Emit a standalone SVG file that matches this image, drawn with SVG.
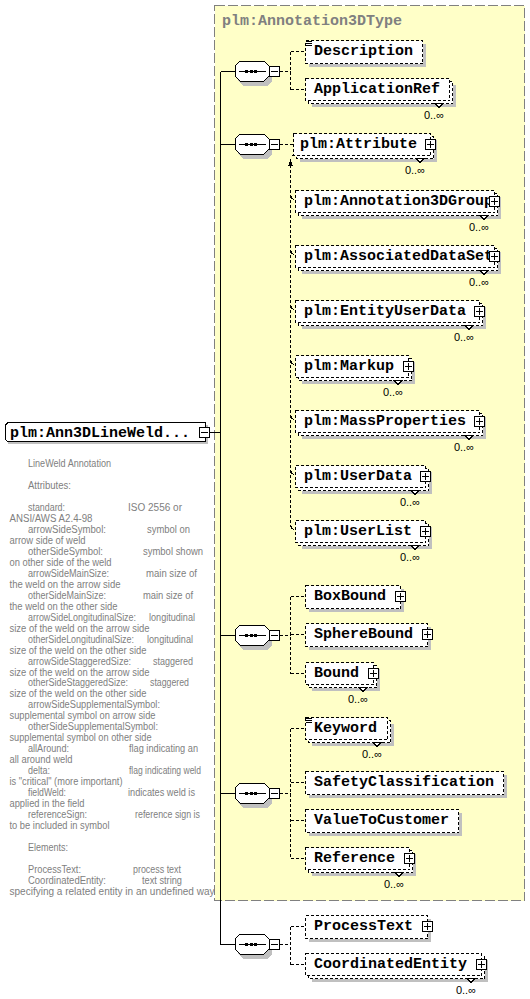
<svg xmlns="http://www.w3.org/2000/svg" xmlns:xlink="http://www.w3.org/1999/xlink" width="530" height="999" viewBox="0 0 530 999">
<defs>
<style>
rect, line, polyline, polygon, path { shape-rendering: crispEdges; }
.yel { fill: #ffffc8; stroke: #808080; stroke-width: 1; stroke-dasharray: 10 3; }
.title { font-family: "Liberation Mono", "Courier New", monospace; font-weight: bold; font-size: 15px; fill: #808080; }
.en { font-family: "Liberation Mono", "Courier New", monospace; font-weight: bold; font-size: 15px; fill: #000000; }
.doc text { font-family: "Liberation Sans", Arial, sans-serif; font-size: 10px; fill: #808080; }
.mult { font-family: "Liberation Sans", Arial, sans-serif; font-size: 11px; fill: #000000; text-anchor: end; }
.sh { fill: #c0c0c0; }
.opt { fill: #ffffff; stroke: #000000; stroke-width: 1; stroke-dasharray: 3 2; }
.req { fill: #ffffff; stroke: #000000; stroke-width: 1; }
.pm { fill: #ffffff; stroke: #000000; stroke-width: 1; }
.ln { stroke: #000000; stroke-width: 1; fill: none; }
.dl { stroke: #000000; stroke-width: 1; fill: none; stroke-dasharray: 3 2; }
.notch { fill: #ffffff; stroke: #000000; stroke-width: 1; }
</style>
<g id="seqShape">
<polygon class="sh" points="243,-5 267,-5 272,0 272,10 267,15 243,15 238,10 238,0"/>
<polygon class="req" points="240,-10 264,-10 269,-5 269,5 264,10 240,10 235,5 235,-5"/>
<line class="ln" x1="239" y1="0.5" x2="266" y2="0.5"/>
<rect x="245" y="-1" width="3" height="3" fill="#000"/>
<rect x="249.5" y="-1" width="3" height="3" fill="#000"/>
<rect x="254" y="-1" width="3" height="3" fill="#000"/>
<rect class="pm" x="269.5" y="-4.5" width="10" height="10"/>
<line class="ln" x1="271" y1="0.5" x2="278" y2="0.5"/>
</g>
<g id="plus">
<rect class="pm" x="0.5" y="0.5" width="10" height="10"/>
<line class="ln" x1="2" y1="5.5" x2="9" y2="5.5"/>
<line class="ln" x1="5.5" y1="2" x2="5.5" y2="9"/>
</g>
<g id="docIcon">
<line class="ln" x1="1" y1="1.5" x2="7" y2="1.5"/>
<line class="ln" x1="1" y1="3.5" x2="7" y2="3.5"/>
<line class="ln" x1="1" y1="5.5" x2="7" y2="5.5"/>
</g>
</defs>

<rect x="0" y="0" width="530" height="999" fill="#ffffff"/>

<g id="complexType">
<rect class="yel" x="214.5" y="5.5" width="310" height="895"/>
<text class="title" x="222" y="25">plm:Annotation3DType</text>
</g>

<g id="connectors">
<line class="ln" x1="209" y1="432.5" x2="220.5" y2="432.5"/>
<line class="ln" x1="220.5" y1="71.5" x2="220.5" y2="944.5"/>
<line class="ln" x1="220.5" y1="71.5" x2="235" y2="71.5"/>
<line class="ln" x1="220.5" y1="144.5" x2="235" y2="144.5"/>
<line class="ln" x1="220.5" y1="635.5" x2="235" y2="635.5"/>
<line class="ln" x1="220.5" y1="793.5" x2="235" y2="793.5"/>
<line class="ln" x1="220.5" y1="944.5" x2="235" y2="944.5"/>
<line class="dl" x1="280" y1="71.5" x2="290.5" y2="71.5"/>
<line class="dl" x1="290.5" y1="51.5" x2="290.5" y2="89.5"/>
<line class="dl" x1="290.5" y1="51.5" x2="305" y2="51.5"/>
<line class="dl" x1="290.5" y1="89.5" x2="305" y2="89.5"/>
<line class="dl" x1="280" y1="144.5" x2="293" y2="144.5"/>
<line class="dl" x1="290.5" y1="165" x2="290.5" y2="525"/>
<polygon points="290.5,159 288,166 293,166" fill="#000"/>
<line class="ln" x1="292" y1="156" x2="296" y2="152" shape-rendering="auto"/>
<polygon points="297,150 293.5,151.5 295.5,153.5" fill="#000"/>
<polyline class="ln" points="290.5,195 291.5,198 294,200" shape-rendering="auto"/>
<polyline class="ln" points="290.5,250 291.5,253 294,255" shape-rendering="auto"/>
<polyline class="ln" points="290.5,305 291.5,308 294,310" shape-rendering="auto"/>
<polyline class="ln" points="290.5,360 291.5,363 294,365" shape-rendering="auto"/>
<polyline class="ln" points="290.5,415 291.5,418 294,420" shape-rendering="auto"/>
<polyline class="ln" points="290.5,470 291.5,473 294,475" shape-rendering="auto"/>
<polyline class="ln" points="290.5,525 291.5,528 294,530" shape-rendering="auto"/>
<line class="dl" x1="280" y1="635.5" x2="290.5" y2="635.5"/>
<line class="dl" x1="290.5" y1="596.5" x2="290.5" y2="673.5"/>
<line class="dl" x1="290.5" y1="596.5" x2="305" y2="596.5"/>
<line class="dl" x1="290.5" y1="634.5" x2="305" y2="634.5"/>
<line class="dl" x1="290.5" y1="673.5" x2="305" y2="673.5"/>
<line class="dl" x1="280" y1="793.5" x2="290.5" y2="793.5"/>
<line class="dl" x1="290.5" y1="728.5" x2="290.5" y2="858.5"/>
<line class="dl" x1="290.5" y1="728.5" x2="305" y2="728.5"/>
<line class="dl" x1="290.5" y1="782.5" x2="305" y2="782.5"/>
<line class="dl" x1="290.5" y1="820.5" x2="305" y2="820.5"/>
<line class="dl" x1="290.5" y1="858.5" x2="305" y2="858.5"/>
<line class="dl" x1="280" y1="944.5" x2="290.5" y2="944.5"/>
<line class="dl" x1="290.5" y1="926.5" x2="290.5" y2="964.5"/>
<line class="dl" x1="290.5" y1="926.5" x2="305" y2="926.5"/>
<line class="dl" x1="290.5" y1="964.5" x2="305" y2="964.5"/>
</g>

<g id="seq1"><use xlink:href="#seqShape" href="#seqShape" y="71"/></g>
<g id="seq2"><use xlink:href="#seqShape" href="#seqShape" y="144"/></g>
<g id="seq3"><use xlink:href="#seqShape" href="#seqShape" y="635"/></g>
<g id="seq4"><use xlink:href="#seqShape" href="#seqShape" y="793"/></g>
<g id="seq5"><use xlink:href="#seqShape" href="#seqShape" y="944"/></g>

<g id="mainNode">
<rect class="sh" x="8" y="425" width="200" height="19"/>
<path class="req" d="M9.5 422.5 H205.5 V441.5 H9.5 Q5.5 441.5 5.5 437.5 V426.5 Q5.5 422.5 9.5 422.5 Z"/>
<text class="en" x="10" y="437">plm:Ann3DLineWeld...</text>
<rect class="pm" x="199.5" y="427.5" width="10" height="10"/>
<line class="ln" x1="201" y1="432.5" x2="208" y2="432.5"/>
</g>

<g id="documentation" class="doc">
<text x="28" y="467" textLength="83" lengthAdjust="spacingAndGlyphs">LineWeld Annotation</text>
<text x="28" y="488.9" textLength="43" lengthAdjust="spacingAndGlyphs">Attributes:</text>
<text x="28" y="510.9" textLength="37" lengthAdjust="spacingAndGlyphs">standard:</text>
<text x="128" y="510.9" textLength="54" lengthAdjust="spacingAndGlyphs">ISO 2556 or</text>
<text x="9.5" y="521.9" textLength="83" lengthAdjust="spacingAndGlyphs">ANSI/AWS A2.4-98</text>
<text x="28" y="532.8" textLength="78" lengthAdjust="spacingAndGlyphs">arrowSideSymbol:</text>
<text x="147" y="532.8" textLength="43" lengthAdjust="spacingAndGlyphs">symbol on</text>
<text x="9.5" y="543.8" textLength="76" lengthAdjust="spacingAndGlyphs">arrow side of weld</text>
<text x="28" y="554.8" textLength="75" lengthAdjust="spacingAndGlyphs">otherSideSymbol:</text>
<text x="143" y="554.8" textLength="60" lengthAdjust="spacingAndGlyphs">symbol shown</text>
<text x="9.5" y="565.7" textLength="102" lengthAdjust="spacingAndGlyphs">on other side of the weld</text>
<text x="28" y="576.7" textLength="81" lengthAdjust="spacingAndGlyphs">arrowSideMainSize:</text>
<text x="146" y="576.7" textLength="51" lengthAdjust="spacingAndGlyphs">main size of</text>
<text x="9.5" y="587.7" textLength="111" lengthAdjust="spacingAndGlyphs">the weld on the arrow side</text>
<text x="28" y="598.6" textLength="78" lengthAdjust="spacingAndGlyphs">otherSideMainSize:</text>
<text x="143" y="598.6" textLength="50" lengthAdjust="spacingAndGlyphs">main size of</text>
<text x="9.5" y="609.6" textLength="108" lengthAdjust="spacingAndGlyphs">the weld on the other side</text>
<text x="28" y="620.6" textLength="108" lengthAdjust="spacingAndGlyphs">arrowSideLongitudinalSize:</text>
<text x="149" y="620.6" textLength="46" lengthAdjust="spacingAndGlyphs">longitudinal</text>
<text x="9.5" y="631.6" textLength="140" lengthAdjust="spacingAndGlyphs">size of the weld on the arrow side</text>
<text x="28" y="642.6" textLength="106" lengthAdjust="spacingAndGlyphs">otherSideLongitudinalSize:</text>
<text x="147" y="642.6" textLength="46" lengthAdjust="spacingAndGlyphs">longitudinal</text>
<text x="9.5" y="653.5" textLength="137" lengthAdjust="spacingAndGlyphs">size of the weld on the other side</text>
<text x="28" y="664.5" textLength="103" lengthAdjust="spacingAndGlyphs">arrowSideStaggeredSize:</text>
<text x="153" y="664.5" textLength="40" lengthAdjust="spacingAndGlyphs">staggered</text>
<text x="9.5" y="675.5" textLength="140" lengthAdjust="spacingAndGlyphs">size of the weld on the arrow side</text>
<text x="28" y="686.4" textLength="100" lengthAdjust="spacingAndGlyphs">otherSideStaggeredSize:</text>
<text x="150" y="686.4" textLength="39" lengthAdjust="spacingAndGlyphs">staggered</text>
<text x="9.5" y="697.4" textLength="137" lengthAdjust="spacingAndGlyphs">size of the weld on the other side</text>
<text x="28" y="708.3" textLength="132" lengthAdjust="spacingAndGlyphs">arrowSideSupplementalSymbol:</text>
<text x="9.5" y="719.3" textLength="146" lengthAdjust="spacingAndGlyphs">supplemental symbol on arrow side</text>
<text x="28" y="730.3" textLength="130" lengthAdjust="spacingAndGlyphs">otherSideSupplementalSymbol:</text>
<text x="9.5" y="741.3" textLength="142" lengthAdjust="spacingAndGlyphs">supplemental symbol on other side</text>
<text x="28" y="752.2" textLength="41" lengthAdjust="spacingAndGlyphs">allAround:</text>
<text x="129" y="752.2" textLength="69" lengthAdjust="spacingAndGlyphs">flag indicating an</text>
<text x="9.5" y="763.2" textLength="63" lengthAdjust="spacingAndGlyphs">all around weld</text>
<text x="28" y="774.2" textLength="22" lengthAdjust="spacingAndGlyphs">delta:</text>
<text x="129" y="774.2" textLength="72" lengthAdjust="spacingAndGlyphs">flag indicating weld</text>
<text x="9.5" y="785.1" textLength="113" lengthAdjust="spacingAndGlyphs">is "critical" (more important)</text>
<text x="28" y="796.1" textLength="38" lengthAdjust="spacingAndGlyphs">fieldWeld:</text>
<text x="128" y="796.1" textLength="67" lengthAdjust="spacingAndGlyphs">indicates weld is</text>
<text x="9.5" y="807.1" textLength="75" lengthAdjust="spacingAndGlyphs">applied in the field</text>
<text x="28" y="818" textLength="59" lengthAdjust="spacingAndGlyphs">referenceSign:</text>
<text x="135" y="818" textLength="65" lengthAdjust="spacingAndGlyphs">reference sign is</text>
<text x="9.5" y="829" textLength="100" lengthAdjust="spacingAndGlyphs">to be included in symbol</text>
<text x="28" y="851" textLength="40" lengthAdjust="spacingAndGlyphs">Elements:</text>
<text x="28" y="872.9" textLength="53" lengthAdjust="spacingAndGlyphs">ProcessText:</text>
<text x="133" y="872.9" textLength="48" lengthAdjust="spacingAndGlyphs">process text</text>
<text x="28" y="883.9" textLength="78" lengthAdjust="spacingAndGlyphs">CoordinatedEntity:</text>
<text x="142" y="883.9" textLength="40" lengthAdjust="spacingAndGlyphs">text string</text>
<text x="9.5" y="894.8" textLength="205" lengthAdjust="spacingAndGlyphs">specifying a related entity in an undefined way</text>
</g>

<g id="Description">
<rect class="sh" x="309" y="44" width="117" height="23"/>
<rect class="opt" x="305.5" y="40.5" width="117" height="23"/>
<use xlink:href="#docIcon" href="#docIcon" x="305" y="40"/>
<text class="en" x="314" y="55">Description</text>
</g>
<g id="ApplicationRef">
<rect class="sh" x="312" y="85" width="144" height="22"/>
<rect class="opt" x="308.5" y="81.5" width="144" height="22"/>
<polygon class="notch" points="435,103.5 439,107.5 443,103.5"/>
<rect class="opt" x="305.5" y="78.5" width="144" height="22"/>
<text class="en" x="314" y="93">ApplicationRef</text>
<text class="mult" x="444" y="119">0..∞</text>
</g>

<g id="Attribute">
<rect class="sh" x="300" y="140" width="137" height="22"/>
<rect class="opt" x="296.5" y="136.5" width="137" height="22"/>
<polygon class="notch" points="416,158.5 420,162.5 424,158.5"/>
<rect class="opt" x="293.5" y="133.5" width="137" height="22"/>
<text class="en" x="300" y="148">plm:Attribute</text>
<use xlink:href="#plus" href="#plus" x="425" y="139"/>
<text class="mult" x="425" y="174">0..∞</text>
</g>
<g id="Annotation3DGroup">
<rect class="sh" x="302" y="197" width="199" height="22"/>
<rect class="opt" x="298.5" y="193.5" width="199" height="22"/>
<polygon class="notch" points="480,215.5 484,219.5 488,215.5"/>
<rect class="opt" x="295.5" y="190.5" width="199" height="22"/>
<text class="en" x="304" y="205">plm:Annotation3DGroup</text>
<use xlink:href="#plus" href="#plus" x="489" y="196"/>
<text class="mult" x="489" y="231">0..∞</text>
</g>
<g id="AssociatedDataSet">
<rect class="sh" x="302" y="252" width="199" height="22"/>
<rect class="opt" x="298.5" y="248.5" width="199" height="22"/>
<polygon class="notch" points="480,270.5 484,274.5 488,270.5"/>
<rect class="opt" x="295.5" y="245.5" width="199" height="22"/>
<text class="en" x="304" y="260">plm:AssociatedDataSet</text>
<use xlink:href="#plus" href="#plus" x="489" y="251"/>
<text class="mult" x="489" y="286">0..∞</text>
</g>
<g id="EntityUserData">
<rect class="sh" x="302" y="307" width="184" height="22"/>
<rect class="opt" x="298.5" y="303.5" width="184" height="22"/>
<polygon class="notch" points="465,325.5 469,329.5 473,325.5"/>
<rect class="opt" x="295.5" y="300.5" width="184" height="22"/>
<text class="en" x="304" y="315">plm:EntityUserData</text>
<use xlink:href="#plus" href="#plus" x="474" y="306"/>
<text class="mult" x="474" y="341">0..∞</text>
</g>
<g id="Markup">
<rect class="sh" x="302" y="362" width="113" height="22"/>
<rect class="opt" x="298.5" y="358.5" width="113" height="22"/>
<polygon class="notch" points="394,380.5 398,384.5 402,380.5"/>
<rect class="opt" x="295.5" y="355.5" width="113" height="22"/>
<text class="en" x="304" y="370">plm:Markup</text>
<use xlink:href="#plus" href="#plus" x="403" y="361"/>
<text class="mult" x="403" y="396">0..∞</text>
</g>
<g id="MassProperties">
<rect class="sh" x="302" y="417" width="184" height="22"/>
<rect class="opt" x="298.5" y="413.5" width="184" height="22"/>
<polygon class="notch" points="465,435.5 469,439.5 473,435.5"/>
<rect class="opt" x="295.5" y="410.5" width="184" height="22"/>
<text class="en" x="304" y="425">plm:MassProperties</text>
<use xlink:href="#plus" href="#plus" x="474" y="416"/>
<text class="mult" x="474" y="451">0..∞</text>
</g>
<g id="UserData">
<rect class="sh" x="302" y="472" width="130" height="22"/>
<rect class="opt" x="298.5" y="468.5" width="130" height="22"/>
<polygon class="notch" points="411,490.5 415,494.5 419,490.5"/>
<rect class="opt" x="295.5" y="465.5" width="130" height="22"/>
<text class="en" x="304" y="480">plm:UserData</text>
<use xlink:href="#plus" href="#plus" x="420" y="471"/>
<text class="mult" x="420" y="506">0..∞</text>
</g>
<g id="UserList">
<rect class="sh" x="302" y="527" width="130" height="22"/>
<rect class="opt" x="298.5" y="523.5" width="130" height="22"/>
<polygon class="notch" points="411,545.5 415,549.5 419,545.5"/>
<rect class="opt" x="295.5" y="520.5" width="130" height="22"/>
<text class="en" x="304" y="535">plm:UserList</text>
<use xlink:href="#plus" href="#plus" x="420" y="526"/>
<text class="mult" x="420" y="561">0..∞</text>
</g>

<g id="BoxBound">
<rect class="sh" x="309" y="589" width="95" height="23"/>
<rect class="opt" x="305.5" y="585.5" width="95" height="23"/>
<text class="en" x="314" y="600">BoxBound</text>
<use xlink:href="#plus" href="#plus" x="395" y="591"/>
</g>
<g id="SphereBound">
<rect class="sh" x="309" y="627" width="122" height="23"/>
<rect class="opt" x="305.5" y="623.5" width="122" height="23"/>
<text class="en" x="314" y="638">SphereBound</text>
<use xlink:href="#plus" href="#plus" x="422" y="629"/>
</g>
<g id="Bound">
<rect class="sh" x="312" y="669" width="68" height="22"/>
<rect class="opt" x="308.5" y="665.5" width="68" height="22"/>
<polygon class="notch" points="359,687.5 363,691.5 367,687.5"/>
<rect class="opt" x="305.5" y="662.5" width="68" height="22"/>
<text class="en" x="314" y="677">Bound</text>
<use xlink:href="#plus" href="#plus" x="368" y="668"/>
<text class="mult" x="368" y="703">0..∞</text>
</g>

<g id="Keyword">
<rect class="sh" x="312" y="724" width="82" height="22"/>
<rect class="opt" x="308.5" y="720.5" width="82" height="22"/>
<polygon class="notch" points="373,742.5 377,746.5 381,742.5"/>
<rect class="opt" x="305.5" y="717.5" width="82" height="22"/>
<use xlink:href="#docIcon" href="#docIcon" x="305" y="717"/>
<text class="en" x="314" y="732">Keyword</text>
<text class="mult" x="382" y="758">0..∞</text>
</g>
<g id="SafetyClassification">
<rect class="sh" x="309" y="775" width="198" height="23"/>
<rect class="opt" x="305.5" y="771.5" width="198" height="23"/>
<text class="en" x="314" y="786">SafetyClassification</text>
</g>
<g id="ValueToCustomer">
<rect class="sh" x="309" y="813" width="153" height="23"/>
<rect class="opt" x="305.5" y="809.5" width="153" height="23"/>
<text class="en" x="314" y="824">ValueToCustomer</text>
</g>
<g id="Reference">
<rect class="sh" x="312" y="854" width="104" height="22"/>
<rect class="opt" x="308.5" y="850.5" width="104" height="22"/>
<polygon class="notch" points="395,872.5 399,876.5 403,872.5"/>
<rect class="opt" x="305.5" y="847.5" width="104" height="22"/>
<text class="en" x="314" y="862">Reference</text>
<use xlink:href="#plus" href="#plus" x="404" y="853"/>
<text class="mult" x="404" y="888">0..∞</text>
</g>

<g id="ProcessText">
<rect class="sh" x="309" y="919" width="122" height="23"/>
<rect class="opt" x="305.5" y="915.5" width="122" height="23"/>
<text class="en" x="314" y="930">ProcessText</text>
<use xlink:href="#plus" href="#plus" x="422" y="921"/>
</g>
<g id="CoordinatedEntity">
<rect class="sh" x="312" y="960" width="176" height="22"/>
<rect class="opt" x="308.5" y="956.5" width="176" height="22"/>
<polygon class="notch" points="467,978.5 471,982.5 475,978.5"/>
<rect class="opt" x="305.5" y="953.5" width="176" height="22"/>
<text class="en" x="314" y="968">CoordinatedEntity</text>
<use xlink:href="#plus" href="#plus" x="476" y="959"/>
<text class="mult" x="476" y="994">0..∞</text>
</g>
</svg>
